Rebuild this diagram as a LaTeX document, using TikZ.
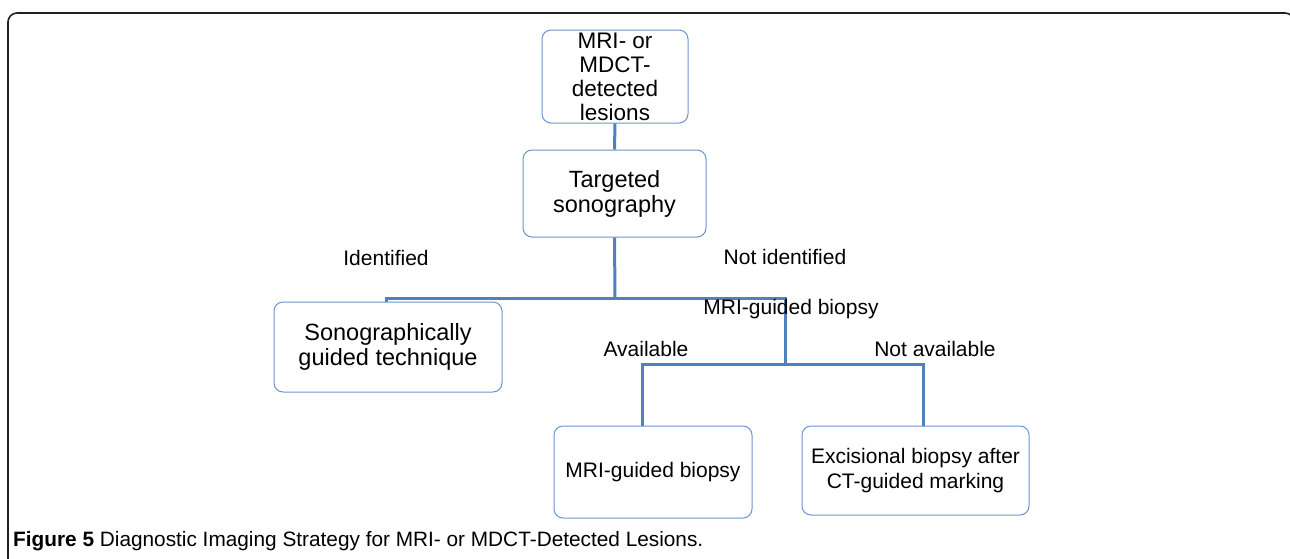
\documentclass[tikz,border=0pt]{standalone}
\usepackage{fontspec}
\setmainfont{Liberation Sans}
\newfontfamily\capfont{Liberation Sans}
\definecolor{lineblue}{HTML}{4F81BD}
\definecolor{boxblue}{HTML}{6A95CC}
\definecolor{framegray}{HTML}{231F20}
\begin{document}
\begin{tikzpicture}[x=1pt,y=-1pt,
  box/.style={draw=boxblue,line width=1pt,rounded corners=9pt,fill=white,align=center,inner sep=0pt,font=\fontsize{23.5}{25}\selectfont},
  conn/.style={draw=lineblue,line width=3pt},
  lab/.style={font=\fontsize{21}{24}\selectfont,inner sep=0pt},
  frame/.style={draw=framegray,line width=1.6pt,rounded corners=9pt}]
\useasboundingbox (0,0) rectangle (1290,558);
\draw[frame] (8,562) -- (8,13) -- (1294,13) -- (1294,562);
% nodes
\node[box,minimum width=146pt,minimum height=93pt,font=\fontsize{22.5}{24}\selectfont] (top) at (615,76.5) {MRI- or\\MDCT-\\detected\\lesions};
\node[box,minimum width=183pt,minimum height=87pt] (sono) at (614.5,193.5) {Targeted\\sonography};
\node[box,minimum width=228pt,minimum height=90pt] (guided) at (388,347) {Sonographically\\guided technique};
\node[box,minimum width=198pt,minimum height=92pt,font=\fontsize{21}{24}\selectfont] (mri) at (653,472) {MRI-guided biopsy};
\node[box,minimum width=227pt,minimum height=89pt,font=\fontsize{21}{25}\selectfont] (exc) at (915.5,470.5) {Excisional biopsy after\\CT-guided marking};
% junction coordinates
\coordinate (j1) at (615,298);
\coordinate (tl) at (386,298);
\coordinate (tr) at (785,298);
\coordinate (j2) at (785,364);
\coordinate (bl) at (642,364);
\coordinate (br) at (923,364);
% connectors
\draw[conn] (top.south) -- (sono.north);
\draw[conn] (sono.south) -- (j1);
\draw[conn] (guided.north -| tl) -- (tl) -- (tr) -- (j2);
\draw[conn] (mri.north -| bl) -- (bl) -- (br) -- (exc.north -| br);
% labels
\node[lab] (lid) at (386,258) {Identified};
\node[lab] (lnid) at (785,257) {Not identified};
\node[lab] (lmri) at (791,309) {MRI-guided biopsy};
\node[lab] (lav) at (646,349) {Available};
\node[lab] (lnav) at (935,349) {Not available};
% caption
\node[anchor=base west,inner sep=0pt,font=\capfont\fontsize{20.8}{24}\selectfont] (cap) at (13,546.5) {\textbf{Figure 5} Diagnostic Imaging Strategy for MRI- or MDCT-Detected Lesions.};
\end{tikzpicture}
\end{document}
